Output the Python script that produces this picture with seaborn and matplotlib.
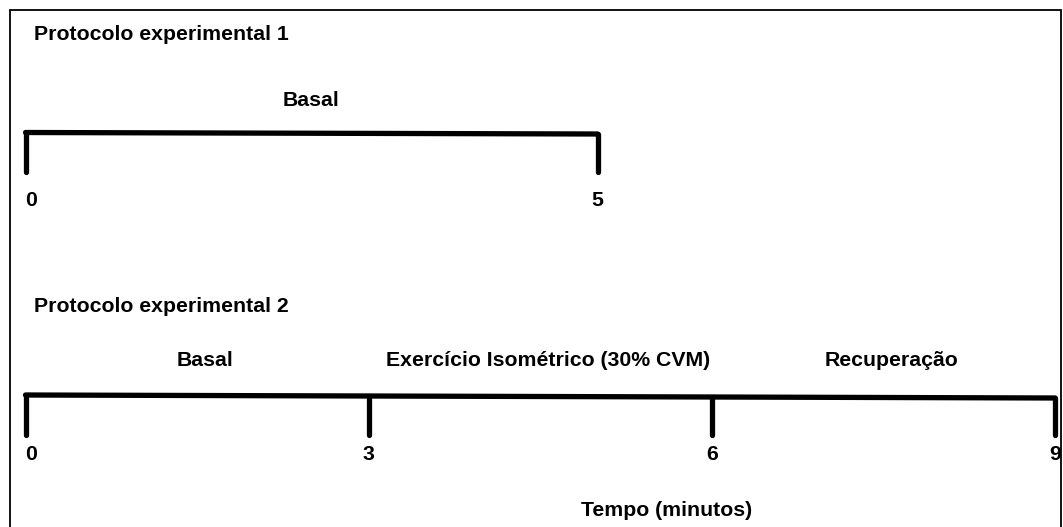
import pandas as pd
import seaborn as sns
import matplotlib.pyplot as plt
from matplotlib.patches import Rectangle

# timeline data (minutes)
p1_title = "Protocolo experimental 1"
p1_ticks = [0, 5]
p1_phases = ["Basal"]
p1_bounds = [0, 5]

p2_title = "Protocolo experimental 2"
p2_ticks = [0, 3, 6, 9]
p2_phases = ["Basal", "Exercício Isométrico (30% CVM)", "Recuperação"]
p2_bounds = [0, 3, 6, 9]

xlabel = "Tempo (minutos)"

sns.set_theme(style="white")
plt.rcParams["font.family"] = ["Liberation Sans", "DejaVu Sans"]
plt.rcParams["font.weight"] = "bold"
plt.rcParams["text.color"] = "black"

W, H = 1063, 527
fig = plt.figure(figsize=(W / 100, H / 100), dpi=100)
ax = fig.add_axes([0, 0, 1, 1])
px = 114.4  # pixels per minute
x0 = 25.5
ax.set_xlim(-x0 / px, (W - x0) / px)
ax.set_ylim(H, 0)
ax.axis("off")

fig.patches.append(Rectangle((10 / W, -0.1), (1061 - 10) / W, (H - 10) / H + 0.1,
                             transform=fig.transFigure, fill=False,
                             edgecolor="black", linewidth=1.3))

fs = 15.3
lw = 3.8


def timeline(title, ticks, phases, bounds, y_title, y_phase, y_line, tilt, y_tick, y_lab, shift):
    ax.text(0.07, y_title, title, fontsize=fs, fontweight="bold", ha="left", va="baseline",
            color="black")
    df = pd.DataFrame({"t": [bounds[0], bounds[-1]], "y": [y_line, y_line + tilt]})
    sns.lineplot(data=df, x="t", y="y", ax=ax, color="black", linewidth=lw,
                 solid_capstyle="round", legend=False)
    for t in ticks:
        yl = y_line + tilt * (t - bounds[0]) / (bounds[-1] - bounds[0])
        ax.plot([t, t], [yl, y_tick], color="black", linewidth=lw, solid_capstyle="round")
        ax.text(t + (0.05 if t == 0 else 0), y_lab, str(t), fontsize=fs, fontweight="bold",
                ha="center", va="baseline", color="black")
    for i, name in enumerate(phases):
        mid = (bounds[i] + bounds[i + 1]) / 2 + shift
        ax.text(mid, y_phase, name, fontsize=fs, fontweight="bold", ha="center",
                va="baseline", color="black")


timeline(p1_title, p1_ticks, p1_phases, p1_bounds, 40.5, 106, 132.5, 1.5, 172, 206.5, 0)
timeline(p2_title, p2_ticks, p2_phases, p2_bounds, 312, 366.5, 395, 3, 434.5, 460, 0.07)

ax.text(5.6, 516, xlabel, fontsize=fs, fontweight="bold", ha="center", va="baseline",
        color="black")

fig.savefig("out.png", dpi=100)
